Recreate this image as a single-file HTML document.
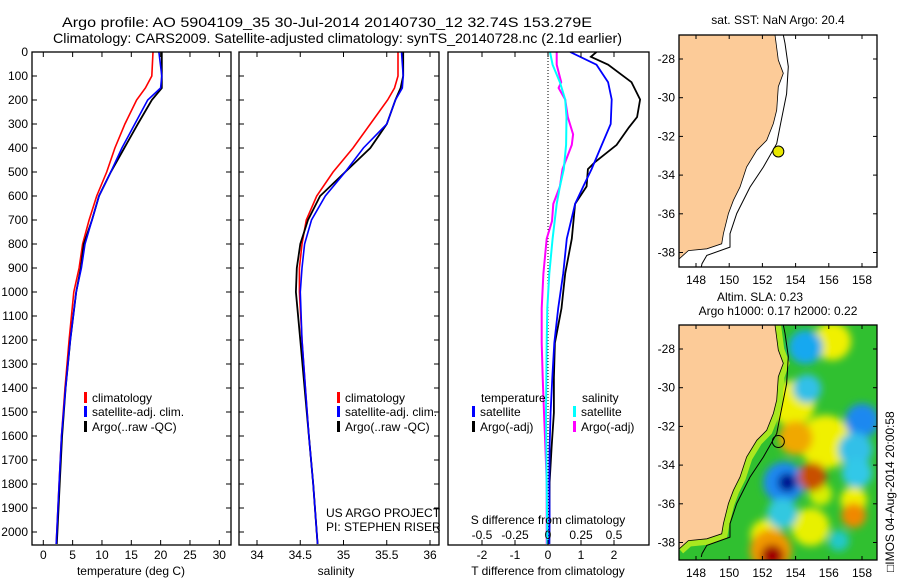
<!DOCTYPE html>
<html><head><meta charset="utf-8">
<style>
html,body{margin:0;padding:0;background:#fff;}
svg{display:block;font-family:"Liberation Sans",sans-serif;}
text{font-size:12px;fill:#000;}
</style></head>
<body>
<svg id="fig" width="900" height="580" viewBox="0 0 900 580" xmlns="http://www.w3.org/2000/svg">
<defs>
  <clipPath id="c1"><rect x="32" y="52" width="199" height="493"/></clipPath>
  <clipPath id="c2"><rect x="239" y="52" width="200" height="493"/></clipPath>
  <clipPath id="c3"><rect x="448" y="52" width="201" height="493"/></clipPath>
  <clipPath id="m1"><rect x="679" y="35" width="198" height="232"/></clipPath>
  <clipPath id="m2"><rect x="679" y="325" width="198" height="235"/></clipPath>
  <filter id="blur" x="-20%" y="-20%" width="140%" height="140%"><feGaussianBlur stdDeviation="4"/></filter>
</defs>
<text x="62" y="27" textLength="530" lengthAdjust="spacingAndGlyphs" style="font-size:14px">Argo profile: AO 5904109_35 30-Jul-2014 20140730_12 32.74S 153.279E</text>
<text x="53" y="43" textLength="569" lengthAdjust="spacingAndGlyphs" style="font-size:14px">Climatology: CARS2009. Satellite-adjusted climatology: synTS_20140728.nc (2.1d earlier)</text>
<g id="p1"></g>
<g id="p2"></g>
<g id="p3"></g>
<g id="map1"></g>
<g id="map2"></g>
</svg>
<script>
// ---- data ----
const depthsT = [0,100,150,200,300,400,500,600,700,800,900,1000,1200,1400,1600,1800,2000,2050];
const tempClim = [18.7,18.5,17.4,15.9,13.9,12.2,10.8,9.1,7.8,6.7,6.1,5.2,4.4,3.7,3.1,2.7,2.3,2.2];
const tempSat  = [19.7,20.2,20.0,17.8,15.6,13.4,11.5,9.5,8.3,7.1,6.5,5.6,4.6,3.8,3.1,2.7,2.3,2.2];
const tempArgo = [20.2,20.2,20.2,18.5,16.1,13.8,11.5,9.5,8.3,6.9,6.4,5.6,4.6,3.8,3.2,2.8,2.4,2.3];
const salClim = [35.63,35.63,35.59,35.51,35.31,35.11,34.88,34.69,34.57,34.52,34.49,34.49,34.52,34.56,34.60,34.65,34.69,34.70];
const salSat  = [35.67,35.69,35.68,35.60,35.50,35.23,35.02,34.79,34.63,34.55,34.52,34.50,34.52,34.56,34.60,34.65,34.69,34.70];
const salArgo = [35.69,35.69,35.66,35.60,35.50,35.31,35.02,34.73,34.59,34.50,34.46,34.45,34.50,34.55,34.60,34.65,34.69,34.70];
const dTsatDepth = [0,53,126,198,300,387,488,560,633,778,923,1068,1212,1357,1503,1647,1792,1937,2050];
const dTsat      = [0.67,1.47,1.82,1.93,1.9,1.63,1.32,1.07,0.82,0.57,0.46,0.31,0.19,0.13,0.08,0.05,0.04,0.05,0.04];
const dTargoDepth = [0,20,53,126,198,271,314,387,459,488,560,633,778,923,1068,1212,1357,1503,1647,1720,1792,2050];
const dTargo      = [1.47,1.3,1.82,2.53,2.79,2.7,2.45,2.08,1.42,1.21,1.17,0.82,0.72,0.52,0.41,0.21,0.18,0.18,0.11,0.08,0.05,0.04];
const dSsatDepth = [0,53,126,198,271,387,488,560,633,778,923,1068,1212,1503,1792,2050];
const dSsat      = [0.015,0.035,0.09,0.13,0.14,0.137,0.12,0.09,0.066,0.035,0.01,-0.005,-0.01,-0.015,-0.01,-0.005];
const dSargoDepth = [0,53,126,150,198,271,343,387,488,560,633,705,778,923,1068,1212,1357,1503,1647,1792,1937,2050];
const dSargo      = [0.066,0.066,0.10,0.08,0.13,0.15,0.19,0.18,0.11,0.09,0.04,0.03,-0.01,-0.035,-0.048,-0.048,-0.04,-0.03,-0.02,-0.01,-0.01,-0.01];
const depthTicks = [0,100,200,300,400,500,600,700,800,900,1000,1100,1200,1300,1400,1500,1600,1700,1800,1900,2000];
const tempTicks = [0,5,10,15,20,25,30];
const salTicks = [34,34.5,35,35.5,36];
const dTticks = [-2,-1,0,1,2];
const dSticks = [-0.5,-0.25,0,0.25,0.5];
const lonTicks = [148,150,152,154,156,158];
const latTicks = [-28,-30,-32,-34,-36,-38];
const coastLon = [152.76,152.96,153.26,152.96,152.86,152.66,152.26,151.66,151.05,150.65,150.25,149.95,149.65,149.55,148.65,147.54,146.98];
const coastLat = [-26.76,-28.05,-28.74,-29.43,-30.64,-31.33,-32.2,-32.72,-33.58,-34.62,-35.3,-35.99,-37.03,-37.55,-37.81,-37.9,-38.33];
const isoLon = [153.26,153.36,153.56,153.46,153.06,152.86,152.06,151.25,150.45,150.05,150.05,148.65,148.36,148.32];
const isoLat = [-26.76,-27.19,-28.4,-29.8,-31.5,-32.37,-33.58,-34.62,-35.99,-37.03,-37.72,-38.15,-38.58,-38.75];
const argoLon = 152.96, argoLat = -32.78;
// SLA anomaly features: lon, lat, radius(deg), colour (drawn in order)
const slaLon = [153.8,156.2,155.8,154.9,152.2,155.5,157.5,154.6,154.7,158.0,157.6,157.7,153.3,153.5,153.2,154.0,155.0,157.5,152.5,152.6,156.6];
const slaLat = [-30.8,-27.6,-32.8,-37.2,-37.6,-35.5,-35.8,-27.9,-30.05,-31.7,-33.2,-34.4,-34.9,-34.9,-36.5,-32.6,-34.6,-36.6,-38.4,-38.7,-37.9];
const slaR   = [1.2,1.0,1.4,1.0,0.8,0.6,0.7,0.9,0.75,0.9,0.9,0.8,1.1,0.5,0.8,0.9,0.75,0.65,1.1,0.6,0.55];
const slaCol = ['#f0f000','#f0f000','#f0f000','#e8f000','#f0f000','#d8f000','#f0f000','#18a8f0','#30c0e8','#1e88f0','#30c0e8','#30c8e8','#1c88f0','#001090','#30c8e0','#f0a800','#c85000','#f08800','#f09800','#a00000','#20c8c8'];

const NS='http://www.w3.org/2000/svg';
function el(tag,attrs,parent,txt){const e=document.createElementNS(NS,tag);for(const k in attrs)e.setAttribute(k,attrs[k]);if(txt!==undefined)e.textContent=txt;parent.appendChild(e);return e;}
const yD = d => 52 + 0.24*d;

function frame(g,x0,x1,y0,y1,name){
  const r=el('rect',{x:x0,y:y0,width:x1-x0,height:y1-y0,fill:'none',stroke:'#000','stroke-width':1.3},g);
  
  
}
function depthAxis(g,x0,x1,labels){
  depthTicks.forEach(d=>{
    const y=yD(d);
    el('line',{x1:x0,y1:y,x2:x0+5,y2:y,stroke:'#000'},g);
    el('line',{x1:x1-5,y1:y,x2:x1,y2:y,stroke:'#000'},g);
    if(labels){
      const t=el('text',{x:x0-4,y:y+4,'text-anchor':'end'},g,String(d));
      
      
    }
  });
}
function xAxis(g,ticks,fx,y0,y1,ly){
  ticks.forEach(v=>{
    const x=fx(v);
    el('line',{x1:x,y1:y1,x2:x,y2:y1-5,stroke:'#000'},g);
    el('line',{x1:x,y1:y0,x2:x,y2:y0+5,stroke:'#000'},g);
    const t=el('text',{x:x,y:ly,'text-anchor':'middle'},g,String(v));
    
    
  });
}
function profile(g,vals,depths,fx,col,w,name,clip){
  const pts=vals.map((v,i)=>fx(v).toFixed(1)+','+yD(depths[i]).toFixed(1)).join(' ');
  const p=el('polyline',{points:pts,fill:'none',stroke:col,'stroke-width':w,'clip-path':'url(#'+clip+')'},g);
  
  
}
function legendItem(g,x,y,col,label){
  const b=el('rect',{x:x,y:y-10,width:3,height:11,fill:col},g);
  
  
  const t=el('text',{x:x+8,y:y},g,label);
  
  
}

// Panel 1: temperature
const p1=document.getElementById('p1');
const fxT=v=>43.3+5.867*v;
profile(p1,tempClim,depthsT,fxT,'#f00',1.6,'temp-climatology-line','c1');
profile(p1,tempArgo,depthsT,fxT,'#000',1.8,'temp-argo-line','c1');
profile(p1,tempSat,depthsT,fxT,'#00f',1.6,'temp-satellite-line','c1');
frame(p1,32,231,52,545,'temperature-axes');
depthAxis(p1,32,231,true);
xAxis(p1,tempTicks,fxT,52,545,559);
el('text',{x:131,y:575,'text-anchor':'middle'},p1,'temperature (deg C)');
legendItem(p1,84,402,'#f00','climatology');
legendItem(p1,84,416,'#00f','satellite-adj. clim.');
legendItem(p1,84,431,'#000','Argo(..raw -QC)');

// Panel 2: salinity
const p2=document.getElementById('p2');
const fxS=v=>257+86.5*(v-34);
profile(p2,salClim,depthsT,fxS,'#f00',1.6,'sal-climatology-line','c2');
profile(p2,salArgo,depthsT,fxS,'#000',1.8,'sal-argo-line','c2');
profile(p2,salSat,depthsT,fxS,'#00f',1.6,'sal-satellite-line','c2');
frame(p2,239,439,52,545,'salinity-axes');
depthAxis(p2,239,439,false);
xAxis(p2,salTicks,fxS,52,545,559);
el('text',{x:336,y:575,'text-anchor':'middle'},p2,'salinity');
legendItem(p2,337,402,'#f00','climatology');
legendItem(p2,337,416,'#00f','satellite-adj. clim.');
legendItem(p2,337,431,'#000','Argo(..raw -QC)');
el('text',{x:326,y:517},p2,'US ARGO PROJECT');
el('text',{x:326,y:531},p2,'PI: STEPHEN RISER');

// Panel 3: differences
const p3=document.getElementById('p3');
const fxdT=v=>548+33*v;
const fxdS=v=>548+132*v;
el('line',{x1:548,y1:52,x2:548,y2:545,stroke:'#000','stroke-dasharray':'1,2','stroke-width':1},p3);
profile(p3,dSargo,dSargoDepth,fxdS,'#f0f',2,'s-diff-argo-line','c3');
profile(p3,dSsat,dSsatDepth,fxdS,'#0ff',2,'s-diff-satellite-line','c3');
profile(p3,dTargo,dTargoDepth,fxdT,'#000',1.8,'t-diff-argo-line','c3');
profile(p3,dTsat,dTsatDepth,fxdT,'#00f',1.8,'t-diff-satellite-line','c3');
frame(p3,448,649,52,545,'difference-axes');
dTticks.forEach(v=>{const x=fxdT(v);el('line',{x1:x,y1:545,x2:x,y2:540,stroke:'#000'},p3);el('line',{x1:x,y1:52,x2:x,y2:57,stroke:'#000'},p3);});
dTticks.forEach(v=>{const t=el('text',{x:fxdT(v),y:559,'text-anchor':'middle'},p3,String(v));});
dSticks.forEach(v=>{const t=el('text',{x:fxdS(v),y:539,'text-anchor':'middle'},p3,String(v));});
el('text',{x:548,y:524,'text-anchor':'middle'},p3,'S difference from climatology');
el('text',{x:548,y:575,'text-anchor':'middle'},p3,'T difference from climatology');
el('text',{x:481,y:402},p3,'temperature');
el('text',{x:582,y:402},p3,'salinity');
legendItem(p3,472,416,'#00f','satellite');
legendItem(p3,472,431,'#000','Argo(-adj)');
legendItem(p3,573,416,'#0ff','satellite');
legendItem(p3,573,431,'#f0f','Argo(-adj)');

// Maps
function makeMap(g,y0,y1,clip,sla){
  const x0=679,x1=877;
  const fx=lon=>696+16.6*(lon-148);
  const fy=lat=>(y0+24)+19.35*(-28-lat);
  const gc=el('g',{'clip-path':'url(#'+clip+')'},g);
  if(sla){
    el('rect',{x:x0,y:y0,width:x1-x0,height:y1-y0,fill:'#30c030'},gc);
    const bg=el('g',{filter:'url(#blur)'},gc);
    slaLon.forEach((lon,i)=>{
      const c=el('circle',{cx:fx(slaLon[i]),cy:fy(slaLat[i]),r:slaR[i]*19,fill:slaCol[i]},bg);
      
      
    });
  }
  const land=coastLon.map((l,i)=>fx(l).toFixed(1)+','+fy(coastLat[i]).toFixed(1)).join(' ')+' '+(x0-5)+','+(y1+5)+' '+(x0-5)+','+(y0-5);
  if(sla){
    el('polyline',{points:coastLon.map((l,i)=>fx(l).toFixed(1)+','+fy(coastLat[i]).toFixed(1)).join(' '),fill:'none',stroke:'#a8e820','stroke-width':12},gc);
  }
  const lp=el('polygon',{points:land,fill:'#fccb98',stroke:'#000','stroke-width':0.8},gc);
  
  
  const iso=el('polyline',{points:isoLon.map((l,i)=>fx(l).toFixed(1)+','+fy(isoLat[i]).toFixed(1)).join(' '),fill:'none',stroke:'#000','stroke-width':1},gc);
  
  
  const dot=el('circle',{cx:fx(argoLon),cy:fy(argoLat),r:sla?6:5.5,fill:sla?'none':'#e8e800',stroke:'#000','stroke-width':1},gc);
  
  
  frame(g,x0,x1,y0,y1,sla?'sla-map-axes':'sst-map-axes');
  lonTicks.forEach(v=>{const x=fx(v);el('line',{x1:x,y1:y1,x2:x,y2:y1-4,stroke:'#000'},g);el('line',{x1:x,y1:y0,x2:x,y2:y0+4,stroke:'#000'},g);
    const t=el('text',{x:x,y:y1+17,'text-anchor':'middle'},g,String(v));});
  latTicks.forEach(v=>{const y=fy(v);el('line',{x1:x0,y1:y,x2:x0+4,y2:y,stroke:'#000'},g);el('line',{x1:x1,y1:y,x2:x1-4,y2:y,stroke:'#000'},g);
    const t=el('text',{x:x0-4,y:y+4,'text-anchor':'end'},g,String(v));});
}
const m1=document.getElementById('map1');
makeMap(m1,35,267,'m1',false);
el('text',{x:778,y:24,'text-anchor':'middle'},m1,'sat. SST: NaN Argo: 20.4');
const m2=document.getElementById('map2');
makeMap(m2,325,560,'m2',true);
el('text',{x:760,y:301,'text-anchor':'middle'},m2,'Altim. SLA: 0.23');
el('text',{x:778,y:315,'text-anchor':'middle'},m2,'Argo h1000: 0.17 h2000: 0.22');
el('text',{x:0,y:0,transform:'translate(894,572) rotate(-90)'},m2,'\u25A1IMOS 04-Aug-2014 20:00:58');
</script>
</body></html>
